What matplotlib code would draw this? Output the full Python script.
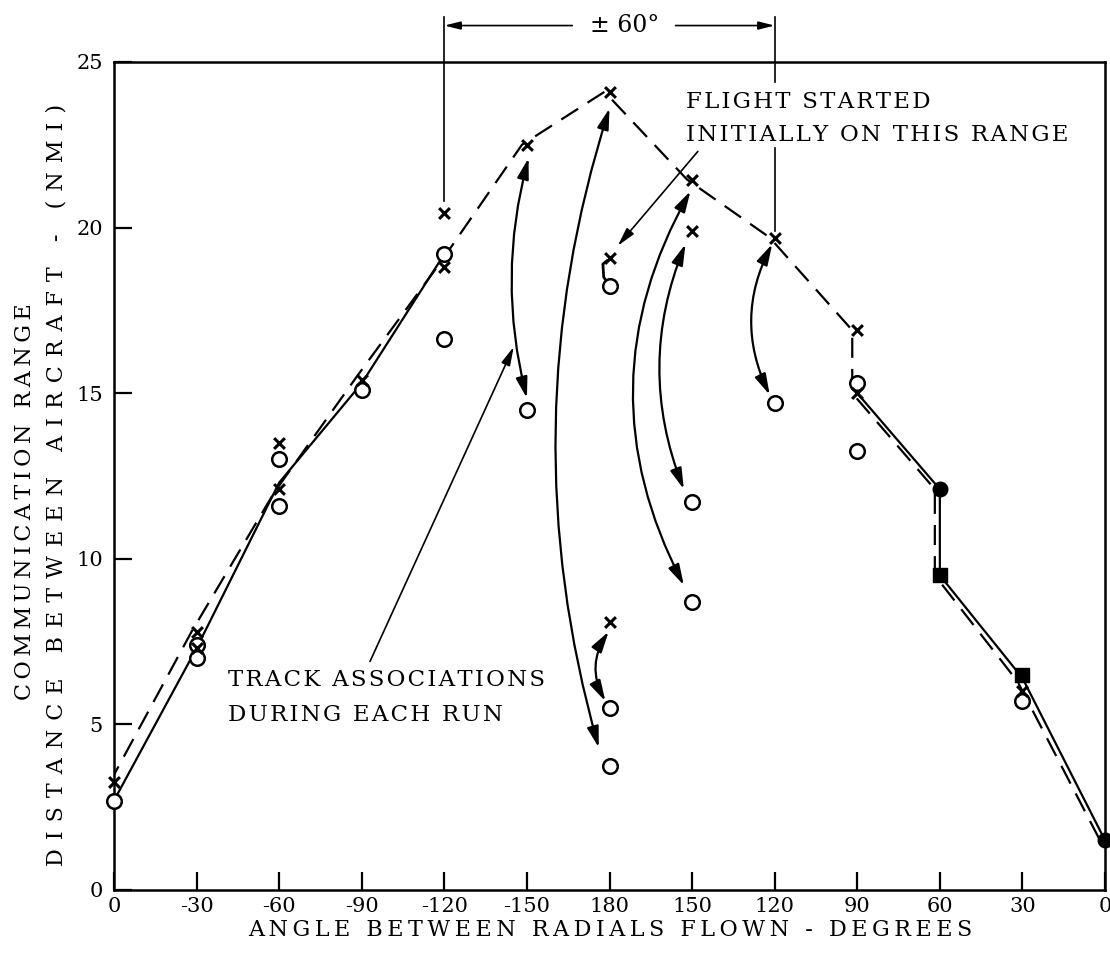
import matplotlib
matplotlib.use('Agg')
import matplotlib.pyplot as plt
import matplotlib.transforms as mtransforms
from matplotlib.patches import FancyArrowPatch

# 数据准备
angle_labels = ['0', '-30', '-60', '-90', '-120', '-150', '180',
                '150', '120', '90', '60', '30', '0']

# solid line (left and right branches)
solid_left_x = [0, 1, 2, 3, 4]
solid_left_y = [2.7, 7.3, 12.3, 15.3, 19.2]
solid_right_x = [9, 10, 10, 11, 12]
solid_right_y = [15.0, 12.1, 9.5, 6.4, 1.5]

# dashed envelope
dash_x = [0, 1, 2, 3, 4, 5, 6, 7, 8, 9, 9, 10, 10, 11, 12]
dash_y = [3.2, 7.8, 12.0, 15.5, 18.9, 22.5, 24.1, 21.45, 19.7, 16.9,
          15.0, 12.1, 9.5, 6.3, 1.5]

# open circles
circ_x = [0, 1, 1, 2, 2, 3, 4, 4, 5, 6, 6, 6, 7, 7, 8, 9, 9, 11]
circ_y = [2.7, 7.4, 7.0, 13.0, 11.6, 15.1, 19.2, 16.65, 14.5, 18.25,
          5.5, 3.75, 11.7, 8.7, 14.7, 15.3, 13.25, 5.7]

# crosses
cross_x = [0, 1, 1, 2, 2, 3, 4, 4, 5, 6, 6, 6, 7, 7, 8, 9, 9, 11]
cross_y = [3.25, 7.8, 7.3, 13.5, 12.1, 15.4, 20.45, 18.8, 22.5, 24.1,
           19.07, 8.1, 21.45, 19.9, 19.7, 16.9, 15.0, 6.0]

# filled markers
fcirc_x = [10, 12]
fcirc_y = [12.1, 1.5]
fsq_x = [10, 11]
fsq_y = [9.5, 6.5]

# curved track-association arrows: (x_top, y_top, x_bot, y_bot, bend)
run_x_top = [5.02, 6.0, 6.98, 6.92, 7.97, 5.99]
run_y_top = [22.1, 23.6, 21.1, 19.5, 19.5, 7.8]
run_x_bot = [5.0, 5.87, 6.9, 6.9, 7.94, 5.95]
run_y_bot = [14.85, 4.3, 9.2, 12.1, 14.95, 5.7]
run_bend = [0.13, 0.15, 0.27, 0.2, 0.25, 0.3]


def sp(s, n=1, ch='\u2009'):
    # wide letter spacing like the typed original
    return (ch * n).join(s)


def main():
    plt.rcParams['font.family'] = ['DejaVu Serif', 'DejaVu Sans']

    fig = plt.figure(figsize=(11.1, 9.61), dpi=100)
    ax = fig.add_axes([0.1027, 0.0739, 0.8928, 0.8616])

    ax.set_xlim(0, 12)
    ax.set_ylim(0, 25)

    # lines
    ax.plot(solid_left_x, solid_left_y, color='black', lw=1.6)
    ax.plot(solid_right_x, solid_right_y, color='black', lw=1.6)
    shifted = mtransforms.offset_copy(ax.transData, fig=fig, x=-5, y=0, units='dots')
    ax.plot(dash_x, dash_y, color='black', lw=1.6, linestyle=(0, (9, 5)),
            transform=shifted)

    # markers
    ax.scatter(circ_x, circ_y, s=110, facecolors='white', edgecolors='black',
               linewidths=1.8, zorder=4, clip_on=False)
    ax.scatter(cross_x, cross_y, s=60, marker='x', color='black',
               linewidths=2.2, zorder=5, clip_on=False)
    ax.scatter(fcirc_x, fcirc_y, s=110, color='black', zorder=5, clip_on=False)
    ax.scatter(fsq_x, fsq_y, s=110, marker='s', color='black', zorder=5, clip_on=False)

    # curved double arrows
    for xt, yt, xb, yb, r in zip(run_x_top, run_y_top, run_x_bot, run_y_bot, run_bend):
        arr = FancyArrowPatch((xt, yt), (xb, yb),
                              connectionstyle=f'arc3,rad={r}',
                              arrowstyle='<|-|>,head_length=0.9,head_width=0.25',
                              mutation_scale=14, lw=1.6, color='black',
                              shrinkA=0, shrinkB=0, zorder=3)
        ax.add_patch(arr)

    # small bracket near 180
    ax.plot([5.97, 5.92, 5.93, 5.96], [19.0, 18.9, 18.5, 18.4], color='black', lw=2)

    # annotations
    hair = '\u200a'
    ax.annotate('', xy=(4.84, 16.4), xytext=(3.1, 6.9),
                arrowprops=dict(arrowstyle='-|>,head_length=0.8,head_width=0.2',
                                mutation_scale=14, lw=1.2, color='black',
                                shrinkA=0, shrinkB=0))
    ax.text(1.38, 6.33, sp('TRACK ASSOCIATIONS', 1, hair), fontsize=16.5,
            ha='left', va='center')
    ax.text(1.38, 5.27, sp('DURING EACH RUN', 1, hair), fontsize=16.5,
            ha='left', va='center')

    ax.annotate('', xy=(6.1, 19.45), xytext=(7.07, 22.3),
                arrowprops=dict(arrowstyle='-|>,head_length=0.8,head_width=0.2',
                                mutation_scale=14, lw=1.2, color='black',
                                shrinkA=0, shrinkB=0))
    ax.text(6.93, 23.8, sp('FLIGHT STARTED', 1, hair), fontsize=16.5,
            ha='left', va='center', backgroundcolor='white')
    ax.text(6.93, 22.8, sp('INITIALLY ON THIS RANGE', 1, hair), fontsize=16.5,
            ha='left', va='center')

    # +-60 degree span above the plot
    ax.plot([4, 4], [26.35, 20.8], color='black', lw=1.2, clip_on=False)
    ax.plot([8, 8], [26.35, 24.4], color='black', lw=1.2, clip_on=False)
    ax.plot([8, 8], [22.4, 19.9], color='black', lw=1.2, clip_on=False)
    ax.annotate('', xy=(4, 26.1), xytext=(5.55, 26.1), annotation_clip=False,
                arrowprops=dict(arrowstyle='-|>,head_length=0.8,head_width=0.2',
                                mutation_scale=12, lw=1.2, color='black',
                                shrinkA=0, shrinkB=0))
    ax.annotate('', xy=(8, 26.1), xytext=(6.8, 26.1), annotation_clip=False,
                arrowprops=dict(arrowstyle='-|>,head_length=0.8,head_width=0.2',
                                mutation_scale=12, lw=1.2, color='black',
                                shrinkA=0, shrinkB=0))
    ax.text(6.18, 26.1, '\u00b1 60\u00b0', fontsize=17, ha='center', va='center')

    # axes styling
    ax.set_xticks(range(13))
    ax.set_xticklabels(angle_labels)
    ax.set_yticks([0, 5, 10, 15, 20, 25])
    ax.tick_params(axis='both', direction='in', length=13, width=1.6,
                   labelsize=15, top=False, right=False)
    ax.tick_params(axis='x', pad=5)
    ax.tick_params(axis='y', pad=8)
    for s in ax.spines.values():
        s.set_linewidth(1.8)

    fig.text(610 / 1110, 1 - 930 / 961, sp('ANGLE BETWEEN RADIALS FLOWN - DEGREES'),
             fontsize=16, ha='center', va='center')
    fig.text(25 / 1110, 1 - 502 / 961, sp('COMMUNICATION RANGE'),
             fontsize=16, ha='center', va='center', rotation=90)
    fig.text(57 / 1110, 1 - 485 / 961, sp('DISTANCE BETWEEN AIRCRAFT - (NMI)', 2),
             fontsize=16, ha='center', va='center', rotation=90)

    fig.savefig('out.png', dpi=100)


if __name__ == '__main__':
    main()
